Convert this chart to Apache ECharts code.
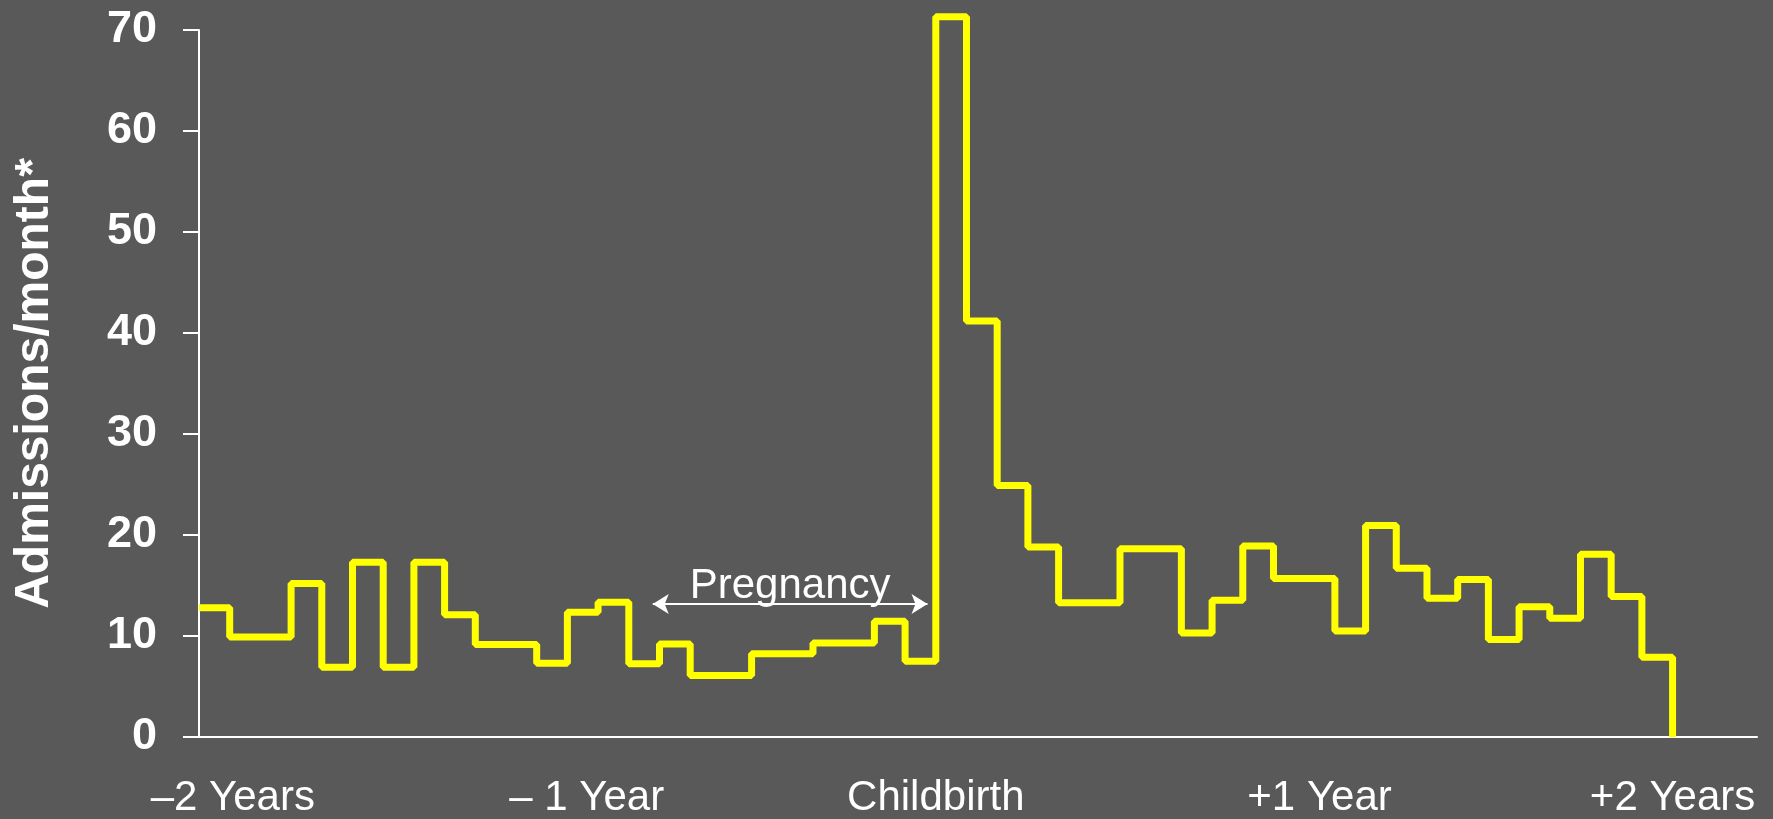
<!DOCTYPE html>
<html>
<head>
<meta charset="utf-8">
<script src="https://cdn.jsdelivr.net/npm/echarts@6/dist/echarts.min.js"></script>
<style>
  html, body { margin: 0; padding: 0; background: #595959; }
  #chart { width: 1773px; height: 819px; }
</style>
</head>
<body>
<div id="chart"></div>
<script>
// admissions per month, 24 months before and 24 months after childbirth
const monthValues = [
  12.8, 9.9, 9.9, 15.2, 6.9, 17.3, 6.9, 17.3, 12.1, 9.15, 9.15, 7.3,
  12.35, 13.35, 7.25, 9.2, 6.1, 6.1, 8.25, 8.25, 9.3, 9.3, 11.45, 7.5,
  71.3, 41.2, 24.9, 18.8, 13.3, 13.3, 18.65, 18.65, 10.3, 13.55, 18.9, 15.7,
  15.7, 10.5, 20.95, 16.7, 13.75, 15.6, 9.65, 12.9, 11.75, 18.1, 13.9, 7.9
]

// x axis labels (in months from the start)
const xLabelPos = [1.1, 12.63, 24, 36.5, 48]
const xLabelText = ['\u20132 Years', '\u2013 1 Year', 'Childbirth', '+1 Year', '+2 Years']

const yTicks = [0, 10, 20, 30, 40, 50, 60, 70]

// pregnancy arrow
const pregnancyRange = [14.78, 23.73]
const pregnancyLevel = 13.17

const font = "'Liberation Sans', Arial, sans-serif"

// step points: month start -> value, closed down to 0 at the end
const stepData = monthValues.map((v, i) => [i, v])
stepData.push([monthValues.length, 0])

const option = {
  backgroundColor: '#595959',
  animation: false,
  grid: {
    left: 199,
    right: 16,
    top: 30,
    bottom: 78
  },
  xAxis: {
    type: 'value',
    min: 0,
    max: 50.75,
    splitLine: { show: false },
    axisTick: { show: false },
    axisLine: { lineStyle: { color: '#ffffff', width: 2 } },
    axisLabel: {
      customValues: xLabelPos,
      formatter: (v) => xLabelText[xLabelPos.indexOf(v)],
      color: '#ffffff',
      fontFamily: font,
      fontSize: 42,
      margin: 40
    }
  },
  yAxis: {
    type: 'value',
    min: yTicks[0],
    max: yTicks[yTicks.length - 1],
    interval: 10,
    name: 'Admissions/month*',
    nameLocation: 'middle',
    nameGap: 140,
    nameTextStyle: {
      color: '#ffffff',
      fontFamily: font,
      fontWeight: 'bold',
      fontSize: 48
    },
    splitLine: { show: false },
    axisLine: { show: true, lineStyle: { color: '#ffffff', width: 2 } },
    axisTick: { show: true, length: 16, lineStyle: { color: '#ffffff', width: 2 } },
    axisLabel: {
      color: '#ffffff',
      fontFamily: font,
      fontWeight: 'bold',
      fontSize: 45,
      margin: 42
    }
  },
  series: [
    {
      type: 'line',
      step: 'end',
      clip: false,
      symbol: 'none',
      lineStyle: { color: '#ffff00', width: 7 },
      data: stepData,
      markLine: {
        silent: true,
        symbol: ['arrow', 'arrow'],
        symbolSize: [15, 16],
        lineStyle: { color: '#ffffff', width: 2, type: 'solid' },
        label: {
          show: true,
          position: 'middle',
          distance: -3,
          formatter: 'Pregnancy',
          color: '#ffffff',
          fontFamily: font,
          fontSize: 42
        },
        data: [
          [
            { coord: [pregnancyRange[0], pregnancyLevel] },
            { coord: [pregnancyRange[1], pregnancyLevel] }
          ]
        ]
      }
    }
  ]
}

const myChart = echarts.init(document.getElementById('chart'))
myChart.setOption(option)
window.onresize = () => {
  myChart.resize()
}
</script>
</body>
</html>
